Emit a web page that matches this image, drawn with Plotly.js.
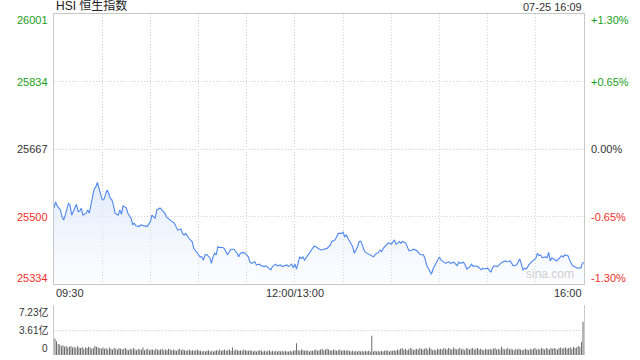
<!DOCTYPE html>
<html>
<head>
<meta charset="utf-8">
<script src="https://cdn.plot.ly/plotly-3.0.1.min.js"></script>
<style>
  html, body { margin: 0; padding: 0; background: #fff; }
  #chart { width: 640px; height: 360px; }
</style>
</head>
<body>
<div id="chart"></div>
<script>
// ---- Data ----
const title = "HSI 恒生指数";
const stamp = "07-25 16:09";
const prevClose = 25667;
const priceMin = 25334;
const priceMax = 26001;
const priceTicks = [26001, 25834, 25667, 25500, 25334];
const pctLabels = ["+1.30%", "+0.65%", "0.00%", "-0.65%", "-1.30%"];
const volTicks = [7.23, 3.61, 0];
const volLabels = ["7.23亿", "3.61亿", "0"];
const timeLabels = ["09:30", "12:00/13:00", "16:00"];
const timeLabelMinutes = [0, 150, 330];

// trading minute since 09:30 (lunch break removed)
const minutes = [0,1,2,4,5,6,7,9,10,11,12,14,15,16,17,18,20,21,22,23,24,25,26,27,28,29,30,31,32,33,34,35,36,37,38,40,41,42,43,45,46,48,49,50,51,53,54,56,58,60,61,63,64,66,67,69,70,72,73,75,76,77,79,80,81,82,84,85,86,87,89,90,91,92,93,94,95,97,98,99,100,101,102,103,105,106,108,109,110,112,114,115,116,118,119,121,122,123,125,126,128,129,131,132,134,135,136,138,139,141,142,144,145,146,148,149,150,151,152,153,154,155,156,157,159,160,162,163,165,166,168,170,172,173,175,176,177,179,180,181,182,183,184,185,186,187,188,189,190,191,192,193,194,195,197,199,200,202,203,204,205,207,208,209,210,212,213,214,215,216,217,219,220,221,222,224,226,227,228,230,231,232,234,235,236,237,238,239,240,241,242,244,245,246,247,249,251,252,253,255,256,257,259,260,261,262,264,265,266,267,268,270,271,272,273,274,276,277,279,281,282,284,285,286,288,289,290,291,292,293,294,295,296,298,299,300,301,302,303,304,306,307,308,309,310,311,312,313,315,316,317,318,320,321,322,323,325,326,327,328,329,330];
const prices = [25522,25537,25527,25517,25500,25492,25504,25533,25529,25504,25513,25531,25513,25514,25521,25504,25509,25517,25509,25529,25550,25569,25574,25585,25570,25558,25542,25542,25554,25566,25558,25546,25542,25529,25509,25504,25517,25506,25527,25522,25509,25496,25481,25484,25478,25476,25480,25478,25476,25488,25504,25496,25517,25522,25517,25509,25500,25492,25490,25484,25473,25467,25470,25459,25455,25459,25447,25443,25439,25422,25410,25407,25401,25401,25393,25406,25407,25399,25385,25401,25410,25406,25426,25424,25424,25422,25407,25412,25420,25420,25410,25401,25410,25412,25410,25401,25388,25385,25389,25381,25383,25379,25377,25379,25373,25369,25377,25383,25379,25381,25377,25379,25381,25377,25383,25374,25383,25371,25389,25401,25397,25401,25393,25399,25412,25418,25428,25426,25422,25418,25420,25422,25430,25439,25443,25451,25459,25459,25462,25451,25455,25447,25439,25435,25426,25410,25418,25426,25439,25440,25430,25418,25412,25410,25406,25401,25407,25412,25418,25414,25422,25429,25435,25435,25432,25443,25432,25435,25439,25435,25439,25435,25426,25416,25416,25420,25416,25412,25407,25406,25397,25381,25364,25358,25371,25379,25385,25397,25401,25393,25391,25385,25388,25389,25385,25388,25379,25388,25385,25388,25381,25371,25377,25383,25377,25379,25377,25373,25369,25373,25371,25373,25369,25363,25374,25379,25377,25381,25388,25391,25389,25391,25385,25379,25381,25388,25396,25383,25369,25373,25371,25377,25383,25391,25393,25397,25410,25404,25406,25399,25401,25399,25412,25391,25399,25397,25393,25391,25399,25404,25401,25406,25404,25393,25385,25379,25374,25373,25374,25373,25385,25388];

// volume per minute, in 亿
const volumes = [2.4,
 2.0,1.6,1.5,1.3,1.4,1.2,1.3,1.1,1.2,1.3,
 1.1,1.2,1.0,1.3,1.1,1.0,1.2,0.9,1.1,1.0, 1.2,1.1,0.9,1.0,1.3,1.2,1.1,1.0,0.9,1.1,
 0.9,1.0,0.8,1.1,0.9,0.8,1.0,0.9,0.8,1.0, 0.9,0.8,0.9,1.0,0.8,0.7,0.9,0.8,1.0,0.8, 0.7,0.9,0.8,0.8,1.1,0.7,0.8,0.9,0.7,0.8,
 0.8,0.7,0.9,0.8,0.7,0.8,0.9,0.7,0.8,0.7, 0.9,0.8,0.7,0.8,0.7,0.6,0.8,0.9,0.7,0.8, 0.7,0.6,0.7,0.8,0.6,0.7,0.6,0.7,0.8,0.6,
 0.6,0.5,0.6,0.5,0.6,0.7,0.5,0.6,0.5,0.6, 0.7,0.6,0.8,0.6,0.7,0.8,0.6,0.7,0.8,0.6, 1.1,0.6,0.8,0.7,0.6,0.7,0.6,0.8,0.7,0.6,
 0.6,0.7,0.6,0.5,0.6,0.5,0.6,0.7,0.6,0.5, 0.6,0.5,0.6,0.7,0.5,0.6,0.5,0.6,0.5,0.6, 0.5,0.6,0.5,0.6,0.5,0.5,0.6,0.5,0.6,0.7,
 1.7,0.7,0.6,0.8,0.7,0.6,0.7,0.6,0.5,0.6, 0.6,0.7,0.8,0.6,0.7,0.8,0.9,0.7,0.8,0.9, 0.8,0.7,0.6,0.8,0.7,0.6,0.7,0.8,0.6,0.7,
 0.7,0.6,0.7,0.6,0.5,0.6,0.5,0.6,0.5,0.6, 0.5,0.6,0.5,0.6,0.5,0.6,0.5,2.8,0.5,0.6, 0.5,0.6,0.5,0.6,0.5,0.6,0.7,0.6,0.5,0.6,
 0.6,0.7,0.6,0.8,0.7,0.9,1.0,0.8,0.9,0.7, 0.8,1.0,0.9,0.7,0.8,0.9,0.8,1.0,0.9,0.8, 0.9,1.0,0.8,1.1,0.9,0.7,0.8,0.7,0.9,0.8,
 0.9,0.8,1.0,0.9,0.8,1.0,0.9,0.8,1.1,0.9, 0.8,0.9,1.0,0.8,0.9,0.7,1.0,0.9,0.8,0.9, 1.0,0.8,0.9,1.0,0.8,0.9,0.8,0.7,0.9,0.8,
 0.8,0.9,0.8,0.9,1.0,0.8,0.9,0.8,1.2,0.9, 0.8,0.9,1.0,0.8,0.9,0.8,0.7,0.9,0.8,0.9, 0.8,0.7,0.8,0.9,0.8,0.7,0.9,0.8,0.9,1.0,
 0.8,0.9,0.8,1.0,0.9,0.8,1.0,0.9,0.8,1.0, 0.9,1.0,0.9,0.8,1.0,1.1,0.9,1.0,1.1,0.9, 1.0,1.1,0.9,1.2,1.0,1.1,1.3,1.2,1.9,4.8];
const volMinutes = volumes.map((_, i) => i);

// ---- Styles ----
const FONT = "Arial, 'Liberation Sans', 'Noto Sans CJK SC', sans-serif";
const GREEN = "#1a9e1a";
const RED = "#f0302a";
const DARK = "#333333";
const labelColor = (v) => v > prevClose ? GREEN : (v < prevClose ? RED : DARK);

const traces = [
  {
    x: minutes, y: prices, type: "scatter", mode: "lines",
    xaxis: "x", yaxis: "y",
    line: { color: "#4f87ee", width: 1.1 },
    fill: "tozeroy",
    fillgradient: {
      type: "vertical", start: priceMin, stop: 25585,
      colorscale: [[0, "rgba(228,237,252,0.12)"], [1, "rgba(222,233,252,0.85)"]]
    },
    hoverinfo: "skip"
  },
  {
    x: volMinutes, y: volumes, type: "bar",
    xaxis: "x2", yaxis: "y2",
    marker: { color: "#5a5a5a", line: { width: 0 } },
    hoverinfo: "skip"
  }
];

const annotations = [];
priceTicks.forEach((v, i) => {
  const shift = v === priceMax ? -6 : (v === priceMin ? 6 : 0);
  annotations.push({
    xref: "paper", yref: "y", x: 0, y: v, xanchor: "right", yanchor: "middle",
    xshift: -4, yshift: shift, showarrow: false, text: String(v),
    font: { family: FONT, size: 11, color: labelColor(v) }
  });
  annotations.push({
    xref: "paper", yref: "y", x: 1, y: v, xanchor: "left", yanchor: "middle",
    xshift: 5, yshift: shift, showarrow: false, text: pctLabels[i],
    font: { family: FONT, size: 11, color: labelColor(v) }
  });
});
volTicks.forEach((v, i) => {
  const shift = i === 0 ? -7 : (v === 0 ? 6 : 0);
  annotations.push({
    xref: "paper", yref: "y2", x: 0, y: v, xanchor: "right", yanchor: "middle",
    xshift: -4, yshift: shift, showarrow: false, text: volLabels[i],
    font: { family: FONT, size: 10, color: DARK }
  });
});
timeLabels.forEach((t, i) => {
  annotations.push({
    xref: "x", yref: "paper", x: timeLabelMinutes[i], y: 0.211, yanchor: "top",
    xanchor: i === 0 ? "left" : (i === timeLabels.length - 1 ? "right" : "center"),
    yshift: -1, showarrow: false, text: t,
    font: { family: FONT, size: 11, color: DARK }
  });
});
annotations.push({
  xref: "paper", yref: "paper", x: 0, y: 0.9611, xanchor: "left", yanchor: "bottom",
  yshift: -1, showarrow: false, text: title,
  font: { family: FONT, size: 12, color: "#222" }
});
annotations.push({
  xref: "paper", yref: "paper", x: 1, y: 0.9611, xanchor: "right", yanchor: "bottom",
  yshift: -1, showarrow: false, text: stamp,
  font: { family: FONT, size: 11, color: DARK }
});
annotations.push({
  xref: "paper", yref: "paper", x: 0.985, y: 0.214, xanchor: "right", yanchor: "bottom",
  showarrow: false, text: "sina.com",
  font: { family: FONT, size: 12, color: "#d0d0d0" }
});

const gridDot = { gridcolor: "#d2d2d2", griddash: "1px,2px", gridwidth: 1 };

const layout = {
  width: 640, height: 360,
  margin: { l: 54, r: 56, t: 0, b: 0, pad: 0 },
  paper_bgcolor: "#ffffff", plot_bgcolor: "#ffffff",
  showlegend: false,
  bargap: 0.45,
  font: { family: FONT, size: 11, color: DARK },
  xaxis: Object.assign({
    domain: [0, 1], range: [0, 330], anchor: "y",
    tickmode: "linear", tick0: 0, dtick: 30,
    showgrid: true, showticklabels: false, ticks: "",
    zeroline: false, showline: true, linecolor: "#c8c8c8", linewidth: 1, mirror: true,
    fixedrange: true
  }, gridDot),
  yaxis: Object.assign({
    domain: [0.2111, 0.9611], range: [priceMin, priceMax], anchor: "x",
    tickmode: "array", tickvals: priceTicks.slice(1, 4),
    showgrid: true, showticklabels: false, ticks: "",
    zeroline: false, showline: true, linecolor: "#c8c8c8", linewidth: 1, mirror: true,
    fixedrange: true
  }, gridDot),
  xaxis2: {
    domain: [0, 1], range: [-0.6, 330.6], anchor: "y2",
    showgrid: false, showticklabels: false, ticks: "", zeroline: false,
    showline: false, fixedrange: true
  },
  yaxis2: Object.assign({
    domain: [0.0139, 0.1528], range: [0, 7.23], anchor: "x2",
    tickmode: "array", tickvals: [3.61, 7.23],
    showgrid: true, showticklabels: false, ticks: "",
    zeroline: false, showline: true, linecolor: "#c8c8c8", linewidth: 1, mirror: true,
    fixedrange: true
  }, gridDot),
  annotations: annotations
};

Plotly.newPlot("chart", traces, layout, { displayModeBar: false, staticPlot: true });
</script>
</body>
</html>
